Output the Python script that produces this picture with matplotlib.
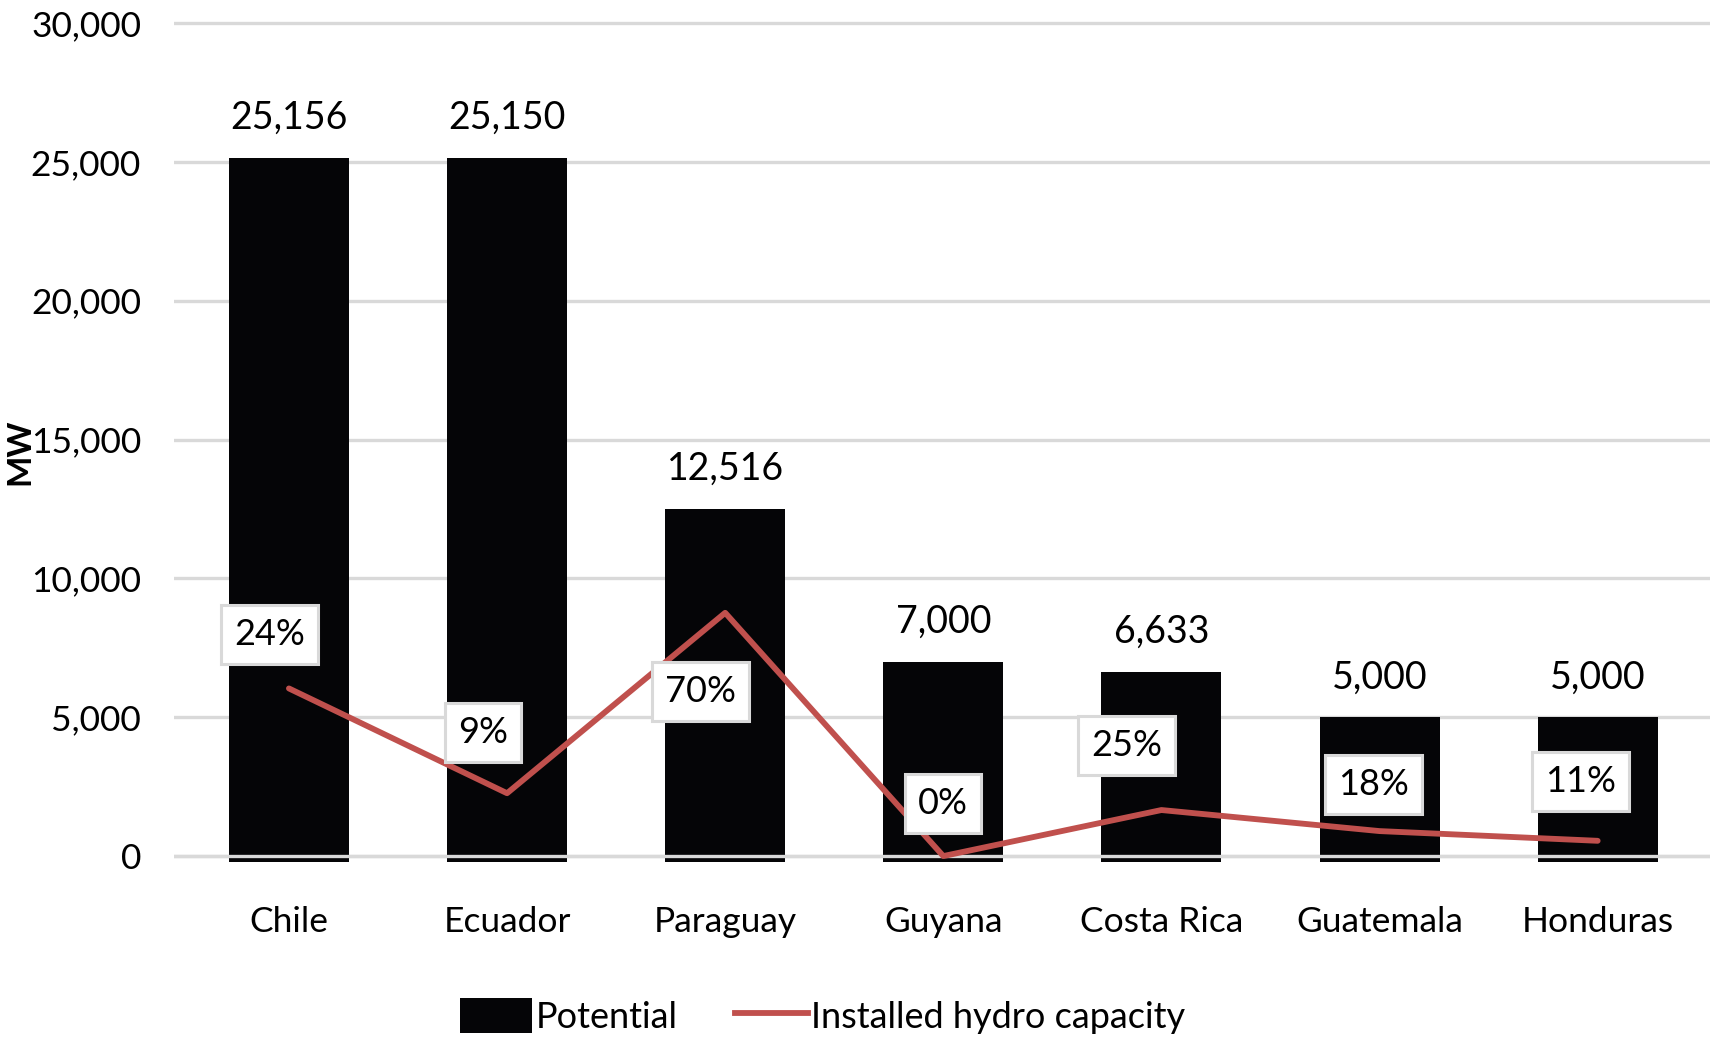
import numpy as np
import matplotlib.pyplot as plt
from matplotlib.lines import Line2D
from matplotlib.patches import Patch

plt.rcParams['font.family'] = ['Lato', 'DejaVu Sans']

# Hydropower potential vs. installed capacity (MW)
countries = ["Chile", "Ecuador", "Paraguay", "Guyana", "Costa Rica", "Guatemala", "Honduras"]
potential = [25156, 25150, 12516, 7000, 6633, 5000, 5000]
installed_pct = [24, 9, 70, 0, 25, 18, 11]
installed = [p * s / 100 for p, s in zip(potential, installed_pct)]

# label offsets for the percentage boxes (pixels from the line point)
pct_offsets = [(-19, 54), (-24, 61), (-25, -79), (0, 53), (-35, 65), (-6, 47), (-17, 59)]

red = "#c0504d"
grid_gray = "#d9d9d9"

fig = plt.figure(figsize=(17.1, 10.37), dpi=100)
ax = fig.add_axes([0.102, 0.1584, 0.898, 0.8274])

x = np.arange(len(countries))
base = -230
ax.bar(x, np.array(potential) - base, bottom=base, width=0.55, color="#050507", zorder=2)
ax.axhline(0, color=grid_gray, lw=2.4, zorder=3)

ax.plot(x, installed, color=red, lw=4.2, zorder=4, solid_capstyle="round")

for xi, v in zip(x, potential):
    ax.annotate(f"{v:,}", (xi, v), xytext=(0, 40), textcoords="offset pixels",
                ha="center", va="center", fontsize=27, zorder=5)

for xi, v, pct, off in zip(x, installed, installed_pct, pct_offsets):
    ax.annotate(f"{pct}%", (xi, v), xytext=off, textcoords="offset pixels",
                ha="center", va="center", fontsize=26, zorder=6,
                bbox=dict(boxstyle="square,pad=0.36", fc="white", ec=grid_gray, lw=2.2))

ax.set_xlim(-0.525, 6.515)
ax.set_ylim(-600, 30300)
ax.set_yticks(range(0, 30001, 5000))
ax.set_yticklabels([f"{t:,}" for t in range(0, 30001, 5000)], fontsize=25.5)
ax.set_xticks(x)
ax.set_xticklabels(countries, fontsize=25.5)
ax.tick_params(axis="y", length=0, pad=24)
ax.tick_params(axis="x", length=0, pad=24)
ax.yaxis.grid(True, color=grid_gray, lw=2.4, zorder=0)
ax.set_axisbelow(True)
for s in ax.spines.values():
    s.set_visible(False)

fig.text(20 / 1710, 1 - 452 / 1037, "MW", rotation=90, fontsize=24, fontweight="bold",
         ha="center", va="center")

handles = [Patch(facecolor="#050507", edgecolor="none"),
           Line2D([0], [0], color=red, lw=4.2)]
fig.legend(handles, ["Potential", "Installed hydro capacity"], loc="center",
           bbox_to_anchor=(0.481, 0.02), ncol=2, frameon=False, fontsize=26,
           handlelength=2.0, handleheight=1.1, handletextpad=0.1, columnspacing=1.6)

fig.savefig("out.png", dpi=100)
